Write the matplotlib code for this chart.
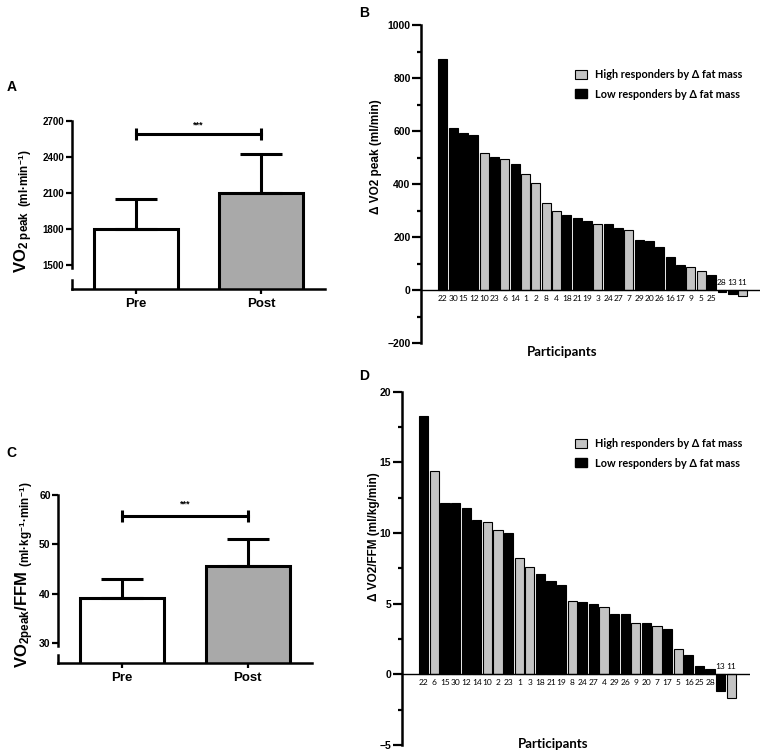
import matplotlib
matplotlib.use('Agg')
import matplotlib.pyplot as plt
from matplotlib.patches import Patch
from matplotlib.ticker import MultipleLocator

plt.rcParams['font.family'] = ['Liberation Sans', 'DejaVu Sans']
plt.rcParams['font.weight'] = 'bold'
plt.rcParams['mathtext.fontset'] = 'custom'
plt.rcParams['mathtext.rm'] = 'Liberation Sans:bold'
plt.rcParams['mathtext.it'] = 'Liberation Sans:bold'
plt.rcParams['mathtext.bf'] = 'Liberation Sans:bold'

# ---- data ----
groups = ['Pre', 'Post']
vo2_mean = [1800, 2100]
vo2_sd = [250, 322]
vo2ffm_mean = [39.1, 45.6]
vo2ffm_sd = [3.9, 5.5]

high_resp = [1, 2, 3, 4, 5, 6, 7, 8, 9, 10, 11]

ids_b = [22, 30, 15, 12, 10, 23, 6, 14, 1, 2, 8, 4, 18, 21, 19, 3, 24, 27, 7, 29,
         20, 26, 16, 17, 9, 5, 25, 28, 13, 11]
delta_vo2 = [873, 610, 594, 585, 516, 503, 493, 477, 437, 403, 330, 298, 283, 273,
             262, 250, 250, 233, 228, 190, 186, 163, 125, 97, 88, 74, 56, -6, -14, -20]

ids_d = [22, 6, 15, 30, 12, 14, 10, 2, 23, 1, 3, 18, 21, 19, 8, 24, 27, 4, 29, 26,
         9, 20, 7, 17, 5, 16, 25, 28, 13, 11]
delta_vo2ffm = [18.3, 14.4, 12.1, 12.1, 11.8, 10.9, 10.8, 10.2, 10.0, 8.2, 7.6, 7.1,
                6.6, 6.3, 5.2, 5.1, 5.0, 4.8, 4.3, 4.3, 3.6, 3.6, 3.4, 3.2, 1.8, 1.4,
                0.6, 0.4, -1.2, -1.7]

W, H = 767, 755
fig = plt.figure(figsize=(W / 100, H / 100), dpi=100)


def px_axes(l, t, r, b):
    # axes from pixel box (left, top, right, bottom)
    return fig.add_axes([l / W, 1 - b / H, (r - l) / W, (b - t) / H])


def pre_post(ax, means, sds, ylim, yticks, brk, sig_y, star_off, tsize):
    x = [0, 1]
    ax.bar(x, means, width=0.67, color=['white', '#a9a9a9'], edgecolor='black',
           linewidth=2.2, zorder=2)
    ax.errorbar(x, means, yerr=[[0, 0], sds], fmt='none', ecolor='black',
                elinewidth=2.2, capsize=15, capthick=2.2, zorder=3)
    # significance bracket
    ax.plot(x, [sig_y, sig_y], color='black', lw=2.2, marker='|', ms=9, mew=2.2)
    ax.text(0.5, sig_y + star_off, '***', ha='center', va='center', fontsize=6.5)
    ax.set_xlim(-0.51, 1.51)
    ax.set_ylim(*ylim)
    ax.set_yticks(yticks)
    ax.set_xticks(x)
    ax.set_xticklabels(groups, fontsize=9.5)
    ax.tick_params(axis='y', labelsize=tsize, length=4.5, width=1.6, pad=1)
    ax.tick_params(axis='x', length=3.5, width=1.6, pad=3)
    for s in ['top', 'right']:
        ax.spines[s].set_visible(False)
    ax.spines['left'].set_linewidth(1.8)
    ax.spines['bottom'].set_linewidth(1.8)
    # broken y axis
    ax.spines['left'].set_bounds(brk[1], ylim[1])
    ax.plot([0, 0], [ylim[0], brk[0]], transform=ax.get_yaxis_transform(),
            color='black', lw=1.8, clip_on=False)


def waterfall(ax, ids, vals, ylim, major, minor, leg_xy):
    colors = ['#c4c4c4' if p in high_resp else 'black' for p in ids]
    x = list(range(len(ids)))
    ax.bar(x, vals, width=0.86, color=colors, edgecolor='black', linewidth=0.8)
    ax.axhline(0, color='black', lw=1)
    for i, (p, v) in enumerate(zip(ids, vals)):
        if v < 0:
            ax.annotate(str(p), (i, 0), xytext=(0, 3), textcoords='offset points',
                        ha='center', va='bottom', fontsize=6, fontweight='normal',
                        family=['Lato', 'DejaVu Sans'])
        else:
            ax.annotate(str(p), (i, 0), xytext=(0, -3.5), textcoords='offset points',
                        ha='center', va='top', fontsize=6, fontweight='normal',
                        family=['Lato', 'DejaVu Sans'])
    ax.set_ylim(*ylim)
    ax.yaxis.set_major_locator(MultipleLocator(major))
    ax.yaxis.set_minor_locator(MultipleLocator(minor))
    ax.tick_params(axis='y', which='major', labelsize=7.5, length=6.5, width=1.6, pad=1)
    ax.tick_params(axis='y', which='minor', length=3.2, width=1.6)
    ax.set_xticks([])
    for s in ['top', 'right', 'bottom']:
        ax.spines[s].set_visible(False)
    ax.spines['left'].set_linewidth(1.8)
    handles = [Patch(facecolor='#c4c4c4', edgecolor='black', lw=0.8,
                     label='High responders by Δ fat mass'),
               Patch(facecolor='black', edgecolor='black', label='Low responders by Δ fat mass')]
    ax.legend(handles=handles, loc='upper left', bbox_to_anchor=leg_xy, frameon=False,
              borderpad=0, borderaxespad=0, handlelength=1.15, handleheight=0.9,
              handletextpad=0.7, labelspacing=0.8,
              prop={'family': ['Lato', 'DejaVu Sans'], 'weight': 'bold', 'size': 7.8})


# ---- A ----
axA = px_axes(71.7, 120.7, 325, 289.3)
pre_post(axA, vo2_mean, vo2_sd, (1298, 2700), [1500, 1800, 2100, 2400, 2700],
         (1378, 1473), 2587, 80, 7)
fig.text(24 / W, 1 - 211 / H, r'$VO_{2\ peak}\ {}_{(ml·min^{-1})}$', rotation=90,
         ha='center', va='center', fontsize=12)

# ---- C ----
axC = px_axes(58.3, 495, 311.7, 662.7)
pre_post(axC, vo2ffm_mean, vo2ffm_sd, (26.1, 60), [30, 40, 50, 60],
         (27.6, 29.45), 55.75, 2.4, 7.5)
fig.text(25 / W, 1 - 575 / H, r'$VO_{2peak}/FFM\ {}_{(ml·kg^{-1}·min^{-1})}$',
         rotation=90, ha='center', va='center', fontsize=12)

# ---- B ----
axB = px_axes(421, 25, 760, 343.3)
axB.set_xlim(-2.11, 30.68)
waterfall(axB, ids_b, delta_vo2, (-200, 1000), 200, 100, (0.454, 0.862))
fig.text(376 / W, 1 - 156.7 / H, 'Δ VO2 peak (ml/min)', rotation=90, ha='center',
         va='center', fontsize=8.5)
fig.text(562.5 / W, 1 - 351.7 / H, 'Participants', ha='center', va='center',
         fontsize=9.5, family=['Lato', 'DejaVu Sans'])

# ---- D ----
axD = px_axes(401.7, 391.7, 750, 745)
axD.set_xlim(-2.085, 30.77)
waterfall(axD, ids_d, delta_vo2ffm, (-5, 20), 5, 2.5, (0.4976, 0.869))
fig.text(374 / W, 1 - 536.7 / H, 'Δ VO2/FFM (ml/kg/min)', rotation=90, ha='center',
         va='center', fontsize=8.5)
fig.text(553 / W, 1 - 744 / H, 'Participants', ha='center', va='center',
         fontsize=9.5, family=['Lato', 'DejaVu Sans'])

# panel letters
for lab, xx, yy in [('A', 11.7, 87.3), ('B', 364, 13), ('C', 11.7, 453), ('D', 364, 376)]:
    fig.text(xx / W, 1 - yy / H, lab, ha='center', va='center', fontsize=10)

fig.savefig('out.png', dpi=100)
